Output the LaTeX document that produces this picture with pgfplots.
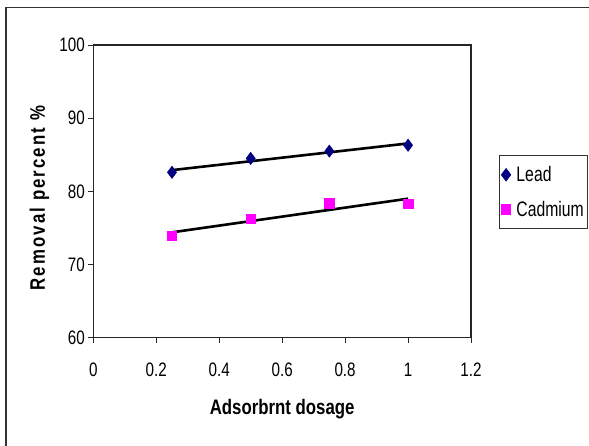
\documentclass[border=0pt]{standalone}
\usepackage{fontspec}
\setmainfont{Liberation Sans}[FakeStretch=0.78]
\newfontfamily\ylabfont{Liberation Sans}[FakeStretch=0.8,LetterSpace=10]
\newfontfamily\xlabfont{Liberation Sans}[FakeStretch=0.8]
\newfontfamily\legfont{Liberation Sans}[FakeStretch=0.75]
\usepackage{pgfplots}
\pgfplotsset{compat=1.18}
\definecolor{leadblue}{RGB}{0,0,128}
\definecolor{cdmag}{RGB}{255,0,255}
\begin{document}
\begin{tikzpicture}[x=1pt,y=1pt]
\useasboundingbox (0,0) rectangle (589,445);
\draw[black!80, line width=1.5pt] (6,-30) -- (6,437.5) -- (640,437.5);
\begin{axis}[
  at={(93.3pt,107.3pt)}, anchor=south west,
  scale only axis, width=377.7pt, height=292.7pt,
  xmin=0, xmax=1.2, ymin=60, ymax=100,
  xtick={0,0.2,0.4,0.6,0.8,1,1.2},
  ytick={60,70,80,90,100},
  tick pos=left, tick align=outside,
  major tick length=5pt,
  axis line style={black!85, line width=1.3pt},
  every tick/.style={black!85, line width=1pt},
  /pgf/number format/assume math mode=true,
  ticklabel style={font=\fontsize{19.5}{22}\selectfont},
  xticklabel style={yshift=-17pt},
  yticklabel style={xshift=0pt},
  xlabel={\xlabfont\bfseries Adsorbrnt dosage},
  xlabel style={at={(axis description cs:0.5,-0.2436)}, anchor=center, font=\fontsize{21}{24}\selectfont},
  ylabel={\ylabfont\bfseries Removal percent \%},
  ylabel style={at={(axis description cs:-0.1425,0.477)}, anchor=center, font=\fontsize{21}{24}\selectfont},
  legend style={at={(axis description cs:1.0741,0.6242)}, anchor=north west,
    draw=black!80, line width=0.8pt, font=\legfont\fontsize{21}{24}\selectfont,
    row sep=14pt, inner xsep=2pt, inner ysep=9pt},
  legend cell align=left,
  legend image code/.code={\draw[mark repeat=2,mark phase=2] plot coordinates {(0pt,0pt)(6pt,0pt)(12pt,0pt)};\path (14pt,0pt);},
]
\addplot[only marks, mark=diamond*, mark size=6.2pt, draw=leadblue, fill=leadblue]
  coordinates {(0.25,82.6)(0.5,84.5)(0.75,85.5)(1,86.3)};
\addlegendentry{Lead}
\addplot[only marks, mark=square*, mark size=4.7pt, draw=cdmag, fill=cdmag]
  coordinates {(0.25,73.9)(0.5,76.3)(0.75,78.4)(1,78.3)};
\addlegendentry{Cadmium}
\addplot[black, line width=2.6pt, forget plot] coordinates {(0.25,82.9)(1,86.55)};
\addplot[black, line width=2.6pt, forget plot] coordinates {(0.25,74.4)(1,79.0)};
\end{axis}
\end{tikzpicture}
\end{document}
